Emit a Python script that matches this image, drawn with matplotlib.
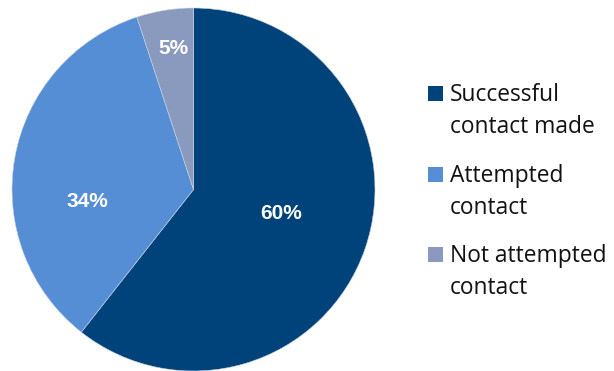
import matplotlib.pyplot as plt
from matplotlib.patches import Rectangle

# Chart data
categories = ["Successful\ncontact made", "Attempted\ncontact", "Not attempted\ncontact"]
shares = [60, 34, 5]
pct_labels = ["60%", "34%", "5%"]
colors = ["#00427A", "#558ED5", "#8A99BE"]

fig = plt.figure(figsize=(6.14, 3.71), dpi=100)
ax = fig.add_axes([12 / 614, 0, 363 / 614, 363 / 371])

wedges, _ = ax.pie(shares, colors=colors, startangle=90, counterclock=False,
                   radius=1, wedgeprops=dict(linewidth=0.4, edgecolor="#c9d4e6"))
ax.set_xlim(-1, 1)
ax.set_ylim(-1, 1)

# label positions (data coords, baseline)
label_pos = [(0.485, -0.163), (-0.584, -0.096), (-0.110, 0.747)]
for txt, (x, y) in zip(pct_labels, label_pos):
    ax.text(x, y, txt, ha="center", va="baseline", color="white",
            fontsize=15, fontweight="bold", family="Liberation Sans")

# legend drawn by hand so the square sits on the first line
W, H = 614, 371
for i, (name, c) in enumerate(zip(categories, colors)):
    top = 86 + i * 80.5
    fig.patches.append(Rectangle((428 / W, 1 - (top + 15) / H), 15 / W, 15 / H,
                                 transform=fig.transFigure, facecolor=c, edgecolor="none"))
    lines = name.split("\n")
    for j, ln in enumerate(lines):
        fig.text(450 / W, 1 - (top + 15 + j * 32) / H, ln, ha="left", va="baseline",
                 fontsize=16.4, family="Open Sans", color="#111111")

fig.savefig("out.png", dpi=100)
